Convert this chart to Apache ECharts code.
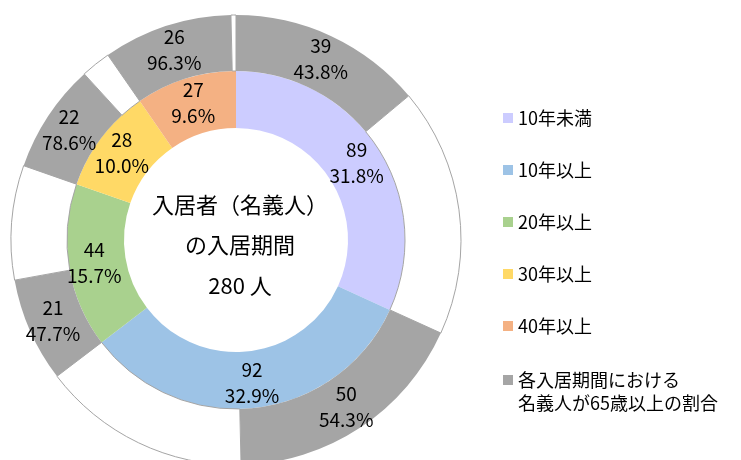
<!DOCTYPE html>
<html><head><meta charset="utf-8">
<script src="https://cdn.jsdelivr.net/npm/echarts@6/dist/echarts.min.js"></script>
<style>html,body{margin:0;padding:0;background:#fff}#c{width:741px;height:460px}</style>
</head><body><div id="c"></div>
<script>
const categories = ['10年未満', '10年以上', '20年以上', '30年以上', '40年以上'];
const totals = [89, 92, 44, 28, 27];
const over65 = [39, 50, 21, 22, 26];
const over65Name = '各入居期間における\n名義人が65歳以上の割合';
const centerLines = ['入居者（名義人）', 'の入居期間', '280 人'];

const colors = ['#ccccff', '#9dc3e6', '#a9d18e', '#ffd966', '#f4b183'];
const gray = '#a5a5a5';
const numFont = "'Noto Sans CJK JP', sans-serif";
const jpFont = "'Noto Sans CJK JP', sans-serif";

const grand = totals.reduce((a, b) => a + b, 0);

const innerData = categories.map((c, i) => ({
  name: c,
  value: totals[i],
  itemStyle: { color: colors[i] }
}));

// transparent carrier of the inner-ring labels (same angles, same mid radius, wider sectors)
const innerLabelData = categories.map((c, i) => ({
  name: '',
  value: totals[i],
  label: { formatter: totals[i] + '\n' + (totals[i] / grand * 100).toFixed(1) + '%' }
}));

const outerData = [];
categories.forEach((c, i) => {
  outerData.push({
    name: over65Name,
    value: over65[i],
    itemStyle: { color: gray },
    label: { show: true, formatter: over65[i] + '\n' + (over65[i] / totals[i] * 100).toFixed(1) + '%' }
  });
  outerData.push({
    name: c + ' 65歳未満',
    value: totals[i] - over65[i],
    itemStyle: { color: '#ffffff', borderColor: gray, borderWidth: 1 },
    label: { show: false }
  });
});

const labelStyle = {
  show: true, position: 'inside', color: '#000',
  fontFamily: numFont, fontSize: 19, lineHeight: 26
};

const chart = echarts.init(document.getElementById('c'));
chart.setOption({
  animation: false,
  backgroundColor: '#fff',
  legend: [{
    orient: 'vertical', left: 503, top: 106.5, padding: 0,
    itemWidth: 10, itemHeight: 10, itemGap: 29, icon: 'rect',
    selectedMode: false,
    itemStyle: { borderWidth: 0 },
    textStyle: { color: '#000', fontFamily: jpFont, fontSize: 18, lineHeight: 23 },
    data: categories
  }, {
    orient: 'vertical', left: 503, top: 368.5, padding: 0,
    itemWidth: 10, itemHeight: 33,
    icon: 'path://M0 0L10 0L10 10L0 10Z M0 33L10 33',
    selectedMode: false,
    itemStyle: { borderWidth: 0 },
    textStyle: { color: '#000', fontFamily: jpFont, fontSize: 18, lineHeight: 23 },
    data: [over65Name]
  }],
  graphic: [{
    type: 'text', x: 240, y: 245, silent: true,
    style: {
      text: centerLines.join('\n'), textAlign: 'center', textVerticalAlign: 'middle',
      fontFamily: jpFont, fontSize: 22, lineHeight: 40.5, fill: '#000'
    }
  }],
  series: [{
    type: 'pie', center: [236, 240], radius: [112, 169],
    startAngle: 90, clockwise: true, silent: true,
    avoidLabelOverlap: false, labelLine: { show: false },
    labelLayout: { hideOverlap: false },
    emphasis: { disabled: true },
    label: { show: false },
    data: innerData
  }, {
    type: 'pie', center: [236, 240], radius: [169, 225],
    startAngle: 90, clockwise: true, silent: true,
    avoidLabelOverlap: false, labelLine: { show: false },
    labelLayout: { hideOverlap: false },
    emphasis: { disabled: true },
    label: labelStyle,
    data: outerData
  }, {
    type: 'pie', center: [236, 240], radius: [56, 225], z: 5,
    startAngle: 90, clockwise: true, silent: true,
    avoidLabelOverlap: false, labelLine: { show: false },
    labelLayout: { hideOverlap: false },
    emphasis: { disabled: true },
    itemStyle: { color: 'rgba(0,0,0,0)', borderWidth: 0 },
    label: labelStyle,
    data: innerLabelData
  }]
});
</script></body></html>
